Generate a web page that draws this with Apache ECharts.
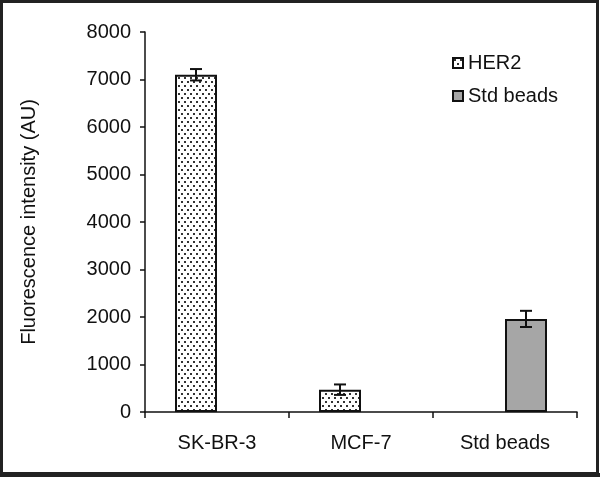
<!DOCTYPE html>
<html><head><meta charset="utf-8">
<script src="https://cdn.jsdelivr.net/npm/echarts@6/dist/echarts.min.js"></script>
<style>html,body{margin:0;padding:0;background:#fff}#c{width:600px;height:477px}</style>
</head><body><div id="c"></div>
<script>
const categories = ['SK-BR-3', 'MCF-7', 'Std beads'];
const her2Values = [7100, 470, null];
const her2Errors = [120, 110, null];
const beadValues = [null, null, 1960];
const beadErrors = [null, null, 170];
const yTicks = [0, 1000, 2000, 3000, 4000, 5000, 6000, 7000, 8000];
const seriesNames = ['HER2', 'Std beads'];

const FONT = 'Liberation Sans, Arial, sans-serif';
const BAR_W = 42;

// dotted pattern
const pat = document.createElement('canvas');
pat.width = 6; pat.height = 8;
const pc = pat.getContext('2d');
pc.fillStyle = '#fff'; pc.fillRect(0, 0, 6, 8);
pc.fillStyle = '#333';
pc.fillRect(1, 1, 2, 2);
pc.fillRect(4, 5, 2, 2);

function errSeries(values, errors, side) {
  const data = [];
  values.forEach((v, i) => { if (v != null) data.push([i, v, errors[i]]); });
  return {
    type: 'custom',
    z: 5,
    silent: true,
    data: data,
    renderItem: function (params, api) {
      const i = api.value(0), v = api.value(1), e = api.value(2);
      const top = api.coord([i, v + e]);
      const bot = api.coord([i, v - e]);
      const x = top[0] + side * BAR_W / 2;
      const hw = 6;
      const st = { stroke: '#111', lineWidth: 2 };
      return {
        type: 'group',
        children: [
          { type: 'line', shape: { x1: x, y1: top[1], x2: x, y2: bot[1] }, style: st },
          { type: 'line', shape: { x1: x - hw, y1: top[1], x2: x + hw, y2: top[1] }, style: st },
          { type: 'line', shape: { x1: x - hw, y1: bot[1], x2: x + hw, y2: bot[1] }, style: st }
        ]
      };
    }
  };
}

const chart = echarts.init(document.getElementById('c'));
chart.setOption({
  animation: false,
  backgroundColor: '#fff',
  textStyle: { fontFamily: FONT },
  grid: { left: 145, right: 23, top: 32, bottom: 65 },
  legend: {
    left: 447, top: 48, orient: 'vertical', itemWidth: 10, itemHeight: 10, itemGap: 13,
    icon: 'rect',
    data: seriesNames,
    textStyle: { fontSize: 20, color: '#111', fontFamily: FONT, padding: [0, 0, 0, 0] }
  },
  xAxis: {
    type: 'category', data: categories,
    axisLine: { lineStyle: { color: '#111', width: 1.5 } },
    axisTick: { show: true, length: 6, lineStyle: { color: '#111', width: 1.5 } },
    axisLabel: { fontSize: 20, color: '#111', margin: 21 },
  },
  yAxis: {
    type: 'value', min: yTicks[0], max: yTicks[yTicks.length - 1], interval: 1000,
    name: 'Fluorescence intensity (AU)', nameLocation: 'middle', nameGap: 106,
    nameTextStyle: { fontSize: 20, color: '#111' },
    axisLine: { show: true, lineStyle: { color: '#111', width: 1.5 } },
    axisTick: { show: true, length: 5, lineStyle: { color: '#111', width: 1.5 } },
    axisLabel: { fontSize: 20, color: '#111', margin: 14, formatter: v => String(v) },
    splitLine: { show: false }
  },
  series: [
    { name: seriesNames[0], type: 'bar', data: her2Values, barWidth: BAR_W, barGap: '0%',
      itemStyle: { color: { image: pat, repeat: 'repeat' }, borderColor: '#111', borderWidth: 2 } },
    { name: seriesNames[1], type: 'bar', data: beadValues, barWidth: BAR_W, barGap: '0%',
      itemStyle: { color: '#a6a6a6', borderColor: '#111', borderWidth: 2 } },
    errSeries(her2Values, her2Errors, -1),
    errSeries(beadValues, beadErrors, 1)
  ],
  graphic: [
    { type: 'rect', silent: true, z: 100, shape: { x: 1.5, y: 1.5, width: 596, height: 472 },
      style: { fill: 'none', stroke: '#222', lineWidth: 3 } },
    { type: 'rect', silent: true, z: 100, shape: { x: 0, y: 473, width: 600, height: 4 },
      style: { fill: '#222' } }
  ]
});
</script></body></html>
